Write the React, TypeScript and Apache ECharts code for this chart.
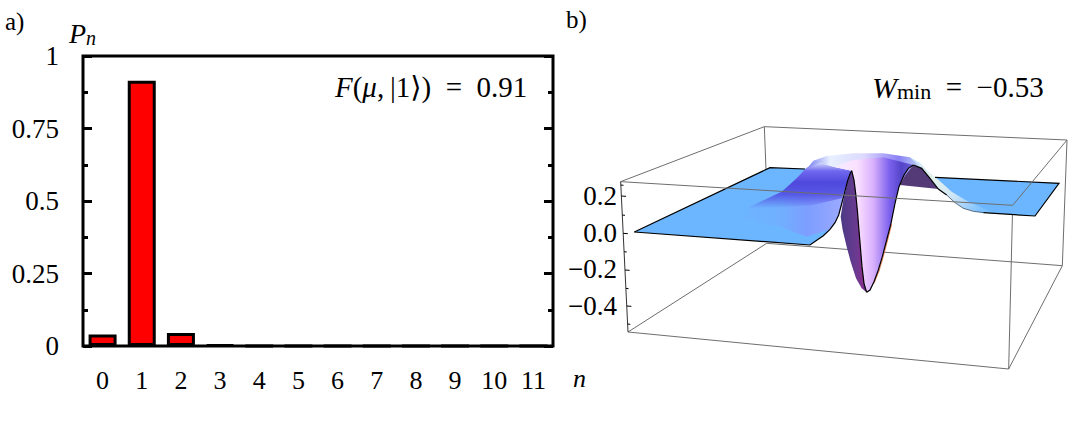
import React, { useEffect, useRef } from "react";
import * as echarts from "echarts";

const categories = ["0", "1", "2", "3", "4", "5", "6", "7", "8", "9", "10", "11"];
const probabilities = [0.04, 0.915, 0.045, 0.004, 0, 0, 0, 0, 0, 0, 0, 0];
const zTicks = [0.2, 0, -0.2, -0.4];

const SERIF = '"Liberation Serif", "DejaVu Serif", serif';

// Illustration outlines of the 3D surface in panel b), measured in a 3x crop whose origin is (600,70)
const backLines: number[][][] = [
  [[493, 170], [1401, 210]],
  [[62, 335], [493, 170]],
  [[493, 170], [498, 300]],
  [[1401, 210], [1387, 587]],
  [[500, 520], [1387, 587]],
  [[84, 786], [500, 520]],
  [[84, 786], [1226, 897]],
  [[1226, 897], [1387, 587]],
  [[1238, 406], [1226, 897]],
];
const frontLines: number[][][] = [
  [[62, 335], [1238, 406]],
  [[1238, 406], [1401, 210]],
];
const slopeLeft = [[630, 525], [648, 512], [670, 497], [690, 478], [705, 458], [716, 435], [724, 405], [733, 370], [743, 332], [750, 312], [755, 302]];
const dipInner = [[755, 302], [762, 330], [767, 370], [772, 420], [776, 470], [781, 530], [786, 590], [792, 640], [800, 667]];
const dipRight = [[800, 667], [810, 660], [822, 635], [835, 600], [847, 560], [860, 510], [873, 460], [885, 400], [897, 350], [912, 315], [925, 295], [940, 285]];
const dipOuter = [[800, 667], [785, 655], [768, 625], [752, 575], [740, 530], [728, 480], [722, 440], [730, 390], [743, 332], [755, 302]];
const ridgeInner = [[940, 285], [965, 295], [990, 325], [1015, 357], [1040, 375], [1065, 398], [1090, 415], [1120, 424], [1150, 428]];
const planeLeft = [[103, 486], [510, 293], [640, 297], ...slopeLeft.slice().reverse()];
const wash = [[400, 440], [470, 400], [545, 365], [590, 325], [620, 293], [700, 290], [755, 302], ...slopeLeft.slice().reverse().slice(1, 8), [620, 500], [540, 470]];
const streak = [[440, 415], [545, 365], [590, 325], [620, 293], [650, 275], [700, 290], [755, 302], [745, 330], [725, 385], [640, 405], [540, 412]];
const rim = [[622, 295], [640, 272], [680, 258], [760, 250], [850, 250], [930, 262], [965, 295], [940, 285], [905, 330], [755, 302], [700, 290], [660, 278]];
const dipFront = [[700, 290], [760, 270], [850, 262], ...dipRight.slice().reverse(), ...dipInner.slice().reverse()];
const dipCut = [...dipInner, ...dipOuter.slice(1)];
const backDark = [[940, 285], [965, 295], [990, 325], [1015, 357], [900, 345], [925, 295]];
const planeRight = [[1000, 322], [1377, 340], [1305, 438], [1150, 428], [1090, 415], [1040, 375]];
const ridgeRight = [[930, 262], [960, 278], [985, 305], [1010, 325], [1055, 365], [1100, 392], [1170, 424], [1200, 431], ...ridgeInner.slice().reverse()];
const outlines: number[][][] = [
  [[103, 486], [510, 293], [615, 297]],
  [[103, 486], ...slopeLeft],
  dipInner,
  dipRight,
  ridgeInner.slice(0, 5),
  [[1150, 428], [1305, 438], [1377, 340], [1005, 322]],
];
const dottedRidge = ridgeInner.slice(4);
const orangeEdge = [[822, 640], [837, 603], [849, 563], [862, 513], [875, 463]];
const axisLine = [[62, 335], [84, 786]];
const zMajorTickRows = [378, 490, 600, 708];
const zMinorTickRows = [345, 435, 545, 655, 762];

const pt = (p: number[]) => [600 + p[0] / 3, 70 + p[1] / 3];
const poly = (points: number[][], fill: any) => ({
  type: "polygon",
  silent: true,
  shape: { points: points.map(pt) },
  style: { fill },
});
const line = (points: number[][], stroke: string, lineWidth: number) => ({
  type: "polyline",
  silent: true,
  shape: { points: points.map(pt) },
  style: { stroke, lineWidth, fill: "none" },
});
const grad = (x: number, y: number, x2: number, y2: number, stops: [number, string][]) =>
  new echarts.graphic.LinearGradient(
    x,
    y,
    x2,
    y2,
    stops.map(([offset, color]) => ({ offset, color }))
  );

const axisXAt = (row: number) =>
  axisLine[0][0] + ((row - axisLine[0][1]) / (axisLine[1][1] - axisLine[0][1])) * (axisLine[1][0] - axisLine[0][0]);

const tickMarks = [
  ...zMajorTickRows.map((r) => line([[axisXAt(r), r], [axisXAt(r) + 14, r + 1]], "#000", 1)),
  ...zMinorTickRows.map((r) => line([[axisXAt(r), r], [axisXAt(r) + 8, r + 1]], "#000", 1)),
];

const text = (x: number, y: number, value: string, fontSize: number, italic = false) => ({
  type: "text",
  x,
  y,
  silent: true,
  style: {
    text: value,
    fontFamily: SERIF,
    fontSize,
    fontStyle: italic ? "italic" : "normal",
    fill: "#000",
    textVerticalAlign: "middle",
  },
});

export default function App() {
  const ref = useRef<HTMLDivElement>(null);
  useEffect(() => {
    const chart = echarts.init(ref.current!, undefined, { renderer: "svg" });
    chart.setOption({
      animation: false,
      backgroundColor: "#fff",
      grid: [
        { left: 83, top: 56, width: 470, height: 290, show: true, borderColor: "#000", borderWidth: 3, backgroundColor: "transparent" },
        { left: 617, top: 159.3, width: 10, height: 183.4, show: false },
      ],
      xAxis: [
        {
          type: "category",
          gridIndex: 0,
          data: categories,
          axisLine: { show: false },
          axisTick: { show: false },
          axisLabel: { margin: 21, fontFamily: SERIF, fontSize: 26, color: "#000", interval: 0 },
        },
        { type: "category", gridIndex: 1, data: [""], show: false },
      ],
      yAxis: [
        {
          type: "value",
          gridIndex: 0,
          min: 0,
          max: 1,
          interval: 0.25,
          splitLine: { show: false },
          axisLine: { show: false },
          axisTick: { show: true, inside: true, length: 9, lineStyle: { color: "#000", width: 3 } },
          minorTick: { show: true, splitNumber: 2, length: 5, lineStyle: { color: "#000", width: 3 } },
          axisLabel: {
            margin: 24,
            fontFamily: SERIF,
            fontSize: 27,
            color: "#000",
            formatter: (v: number) => String(v),
          },
        },
        {
          type: "value",
          gridIndex: 0,
          position: "right",
          min: 0,
          max: 1,
          interval: 0.25,
          splitLine: { show: false },
          axisLine: { show: false },
          axisLabel: { show: false },
          axisTick: { show: true, inside: true, length: 9, lineStyle: { color: "#000", width: 3 } },
          minorTick: { show: true, splitNumber: 2, length: 5, lineStyle: { color: "#000", width: 3 } },
        },
        {
          type: "value",
          gridIndex: 1,
          min: -0.6,
          max: 0.4,
          interval: 0.2,
          splitLine: { show: false },
          axisLine: { show: false },
          axisTick: { show: false },
          axisLabel: {
            margin: 0,
            fontFamily: SERIF,
            fontSize: 27,
            color: "#000",
            formatter: (v: number) => {
              const r = Math.round(v * 10) / 10;
              if (!zTicks.includes(r)) return "";
              return (r < 0 ? "\u2212" : "") + Math.abs(r).toFixed(1);
            },
          },
        },
      ],
      series: [
        {
          type: "bar",
          xAxisIndex: 0,
          yAxisIndex: 0,
          data: probabilities,
          barWidth: 28,
          itemStyle: { color: "#ff0000", borderColor: "#000", borderWidth: 3 },
        },
      ],
      graphic: [
        ...backLines.map((l) => line(l, "#6e6e6e", 1)),
        poly(planeLeft, "#6cb6ff"),
        poly(wash, grad(0, 0, 1, 0, [
          [0, "rgba(130,150,255,0)"],
          [0.4, "rgba(130,150,255,0.2)"],
          [0.62, "rgba(130,150,255,0.75)"],
          [1, "#a8aeff"],
        ])),
        poly(streak, grad(0, 1, 0, 0, [
          [0, "rgba(80,75,225,0)"],
          [0.3, "rgba(80,75,225,0.85)"],
          [0.55, "#4f48dc"],
          [0.8, "#7068ee"],
          [1, "#dfe8ff"],
        ])),
        poly(backDark, "#553a78"),
        poly(planeRight, "#6cb6ff"),
        poly(ridgeRight, grad(0, 0, 1, 0.6, [
          [0, "#c8e0ff"],
          [0.35, "#e4f2ea"],
          [0.65, "#cfe6f6"],
          [1, "#7cc0ff"],
        ])),
        poly(rim, grad(0, 0, 1, 0, [
          [0, "#7a80f0"],
          [0.2, "#e8f0ff"],
          [0.5, "#dcd8ff"],
          [0.8, "#8a80f4"],
          [1, "#c0d8f8"],
        ])),
        poly(dipFront, grad(0, 0, 1, 0, [
          [0, "#f4ecff"],
          [0.3, "#fbe0ff"],
          [0.5, "#d8b0fc"],
          [0.7, "#7c62ee"],
          [0.85, "#5444c8"],
          [1, "#6a5cd8"],
        ])),
        poly(dipCut, grad(0, 0, 1, 0, [
          [0, "#4a3a84"],
          [0.6, "#6a3a90"],
          [0.85, "#86308e"],
          [1, "#3a2a78"],
        ])),
        line(orangeEdge, "#f08050", 1),
        ...outlines.map((l) => line(l, "#000", 1.2)),
        line(dottedRidge, "#2a3a50", 0.7),
        ...frontLines.map((l) => line(l, "#6e6e6e", 1)),
        line(axisLine, "#333", 1),
        ...tickMarks,
        text(5, 21, "a)", 25),
        text(566, 19, "b)", 25),
        text(573, 378, "n", 26, true),
        {
          type: "text",
          x: 69,
          y: 33,
          silent: true,
          style: {
            text: "{p|P}{s|n}",
            rich: {
              p: { fontFamily: SERIF, fontStyle: "italic", fontSize: 28, fill: "#000" },
              s: { fontFamily: SERIF, fontStyle: "italic", fontSize: 20, fill: "#000", padding: [10, 0, 0, 0] },
            },
            textVerticalAlign: "middle",
          },
        },
        {
          type: "text",
          x: 335,
          y: 87,
          silent: true,
          style: {
            text: "{i|F}{r|(}{i|\u03bc}{r|,\u2009|1\u27e9)\u2002=\u20020.91}",
            rich: {
              i: { fontFamily: SERIF, fontStyle: "italic", fontSize: 29, fill: "#000" },
              r: { fontFamily: SERIF, fontSize: 29, fill: "#000" },
            },
            textVerticalAlign: "middle",
          },
        },
        {
          type: "text",
          x: 872,
          y: 87,
          silent: true,
          style: {
            text: "{i|W}{s|min}{r|\u2002=\u2002\u22120.53}",
            rich: {
              i: { fontFamily: SERIF, fontStyle: "italic", fontSize: 30, fill: "#000" },
              s: { fontFamily: SERIF, fontSize: 22, fill: "#000", padding: [8, 0, 0, 0] },
              r: { fontFamily: SERIF, fontSize: 29, fill: "#000" },
            },
            textVerticalAlign: "middle",
          },
        },
      ],
    });
    return () => chart.dispose();
  }, []);
  return <div ref={ref} style={{ width: 1072, height: 431, position: "absolute", left: 0, top: 0 }} />;
}
